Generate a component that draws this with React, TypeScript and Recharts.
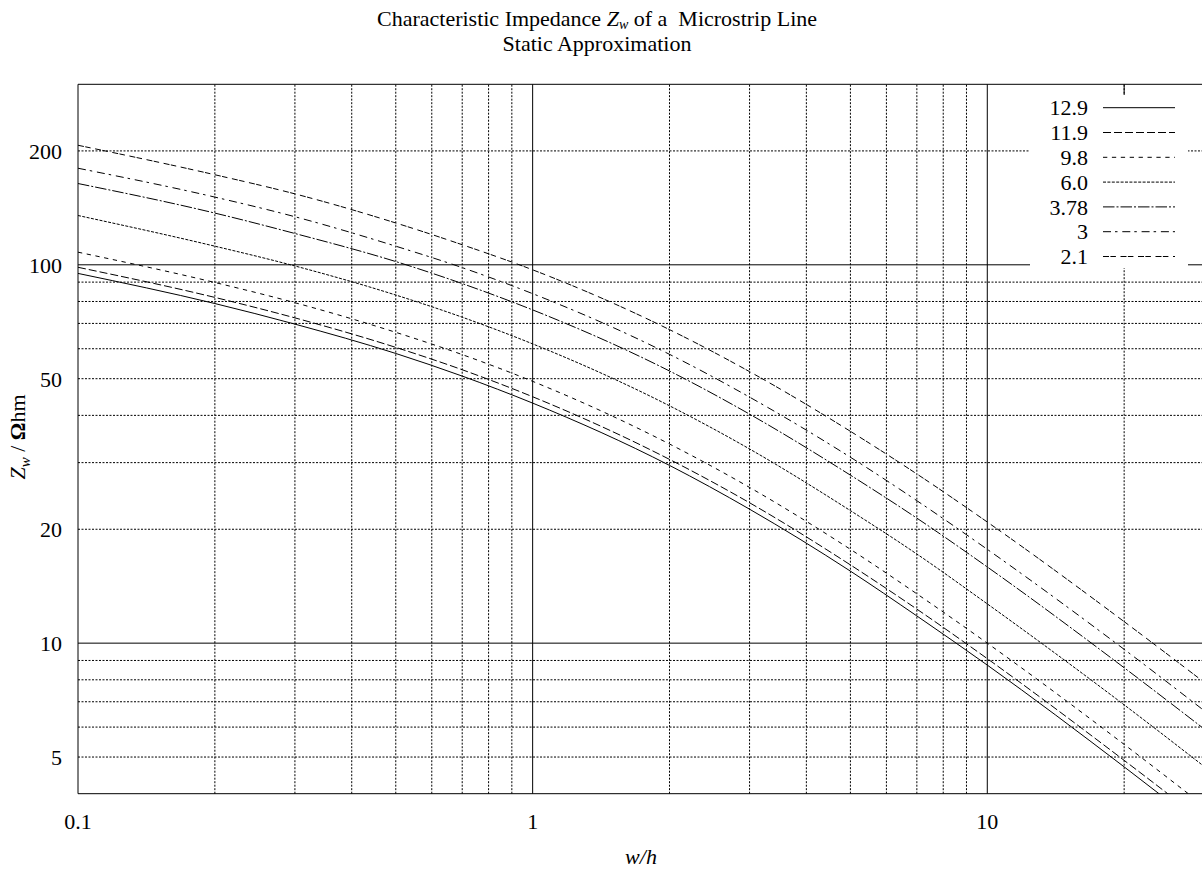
import React from 'react';
import { LineChart, Line, XAxis, YAxis, ReferenceLine, Legend, Customized } from 'recharts';

// w/h sample points
const widths = [0.1, 0.2, 0.3, 0.5, 0.7, 1, 2, 3, 5, 7, 10, 20, 30];

// Z_w / Ohm for each relative permittivity
const er12_9 = [94.9, 79.0, 69.7, 58.3, 50.8, 43.1, 29.5, 22.6, 15.5, 11.8, 8.75, 4.71, 3.23];
const er11_9 = [98.5, 82.0, 72.4, 60.5, 52.8, 44.8, 30.6, 23.5, 16.1, 12.3, 9.1, 4.9, 3.37];
const er9_8 = [108, 89.8, 79.4, 66.3, 57.9, 49.2, 33.6, 25.8, 17.7, 13.5, 10.0, 5.4, 3.71];
const er6_0 = [135, 112, 99.3, 83.2, 72.7, 61.8, 42.4, 32.6, 22.4, 17.2, 12.7, 6.87, 4.72];
const er3_78 = [164, 137, 121, 102, 89.2, 76.0, 52.4, 40.3, 27.8, 21.4, 15.9, 8.61, 5.93];
const er3 = [180, 151, 134, 112, 98.3, 83.9, 58.0, 44.7, 31.0, 23.8, 17.7, 9.63, 6.63];
const er2_1 = [207, 173, 154, 129, 113, 97.0, 67.4, 52.2, 36.3, 28.0, 20.9, 11.4, 7.88];

const seriesNames = ['12.9', '11.9', '9.8', '6.0', '3.78', '3', '2.1'];
const seriesValues = [er12_9, er11_9, er9_8, er6_0, er3_78, er3, er2_1];
const dashPatterns: (string | undefined)[] = [
  undefined,
  '8 3',
  '4.3 4.6',
  '3 1.4',
  '11.5 2 2 2',
  '8 4 2.5 4.8',
  '6 1.4 5.5 4.6',
];

const xTicks = [0.1, 1, 10];
const yTicks = [5, 10, 20, 50, 100, 200];
const xMajorGrid = [1, 10];
const xMinorGrid = [0.2, 0.3, 0.4, 0.5, 0.6, 0.7, 0.8, 0.9, 2, 3, 4, 5, 6, 7, 8, 9, 20];
const yMajorGrid = [10, 100];
const yMinorGrid = [5, 6, 7, 8, 9, 20, 30, 40, 50, 60, 70, 80, 90, 200];

const data = widths.map((w, i) => {
  const row: Record<string, number> = { w };
  seriesValues.forEach((vals, k) => {
    row[`s${k}`] = vals[i];
  });
  return row;
});

const FONT = '"Liberation Serif", "Times New Roman", serif';
const INK = '#000';
const GRID_DASH = '2 1.5';

const renderLegend = () => (
  <svg width={158} height={173} style={{ display: 'block', background: '#fff' }}>
    {seriesNames.map((n, k) => {
      const y = 12.7 + k * 24.8;
      return (
        <g key={n}>
          <text x={58} y={y} dy="0.35em" textAnchor="end" fontSize={22} fill={INK} fontFamily={FONT}>
            {n}
          </text>
          <line x1={73} x2={145} y1={y} y2={y} stroke={INK} strokeWidth={1} strokeDasharray={dashPatterns[k]} />
        </g>
      );
    })}
  </svg>
);

const Labels = () => (
  <g fontFamily={FONT} fill={INK}>
    <text x={597} y={26} textAnchor="middle" fontSize={22}>
      Characteristic Impedance <tspan fontStyle="italic">Z</tspan>
      <tspan fontStyle="italic" fontSize={14} dy={3}>w</tspan>
      <tspan dy={-3}>{' of a\u00A0 Microstrip Line'}</tspan>
    </text>
    <text x={597} y={51} textAnchor="middle" fontSize={22}>
      Static Approximation
    </text>
    <text x={641} y={864} textAnchor="middle" fontSize={22} fontStyle="italic">
      w/h
    </text>
    <text transform="translate(25,437) rotate(-90)" textAnchor="middle" fontSize={22}>
      <tspan fontStyle="italic">Z</tspan>
      <tspan fontStyle="italic" fontSize={15} dy={5}>w</tspan>
      <tspan dy={-5}>{' / '}</tspan>
      <tspan fontWeight="bold">Ω</tspan>
      <tspan>hm</tspan>
    </text>
  </g>
);

export default function App() {
  return (
    <div
      style={{
        position: 'absolute',
        left: 0,
        top: 0,
        width: 1202,
        height: 870,
        overflow: 'hidden',
        background: '#fff',
        fontFamily: FONT,
      }}
    >
      <LineChart
        width={1210}
        height={870}
        data={data}
        margin={{ top: 84.3, right: 5.8, bottom: 46.3, left: 18 }}
      >
        <XAxis
          dataKey="w"
          type="number"
          scale="log"
          domain={[0.1, 30]}
          allowDataOverflow
          ticks={xTicks}
          tickFormatter={(v: number) => String(v)}
          tickLine={false}
          tickSize={0}
          tickMargin={20}
          height={30}
          axisLine={{ stroke: INK, strokeWidth: 1 }}
          tick={{ fill: INK, fontSize: 22, fontFamily: FONT }}
        />
        <YAxis
          type="number"
          scale="log"
          domain={[4, 300]}
          allowDataOverflow
          ticks={yTicks}
          tickLine={false}
          tickSize={0}
          tickMargin={16}
          width={60}
          axisLine={{ stroke: INK, strokeWidth: 1 }}
          tick={{ fill: INK, fontSize: 22, fontFamily: FONT }}
        />
        {xMinorGrid.map((v) => (
          <ReferenceLine key={`xm${v}`} x={v} stroke={INK} strokeWidth={1} strokeDasharray={GRID_DASH} />
        ))}
        {yMinorGrid.map((v) => (
          <ReferenceLine key={`ym${v}`} y={v} stroke={INK} strokeWidth={1} strokeDasharray={GRID_DASH} />
        ))}
        {xMajorGrid.map((v) => (
          <ReferenceLine key={`xM${v}`} x={v} stroke={INK} strokeWidth={1} />
        ))}
        {yMajorGrid.map((v) => (
          <ReferenceLine key={`yM${v}`} y={v} stroke={INK} strokeWidth={1} />
        ))}
        <ReferenceLine y={300} stroke={INK} strokeWidth={1} />
        <ReferenceLine
          segment={[
            { x: 20, y: 300 },
            { x: 20, y: 280 },
          ]}
          stroke={INK}
          strokeWidth={1}
        />
        {seriesNames.map((n, k) => (
          <Line
            key={n}
            dataKey={`s${k}`}
            name={n}
            type="monotone"
            stroke={INK}
            strokeWidth={1}
            strokeDasharray={dashPatterns[k]}
            dot={false}
            activeDot={false}
            isAnimationActive={false}
          />
        ))}
        <Legend
          layout="vertical"
          align="center"
          verticalAlign="middle"
          content={renderLegend}
          wrapperStyle={{ left: 1030, top: 95, width: 158, height: 173, background: '#fff' }}
        />
        <Customized component={Labels} />
      </LineChart>
    </div>
  );
}
